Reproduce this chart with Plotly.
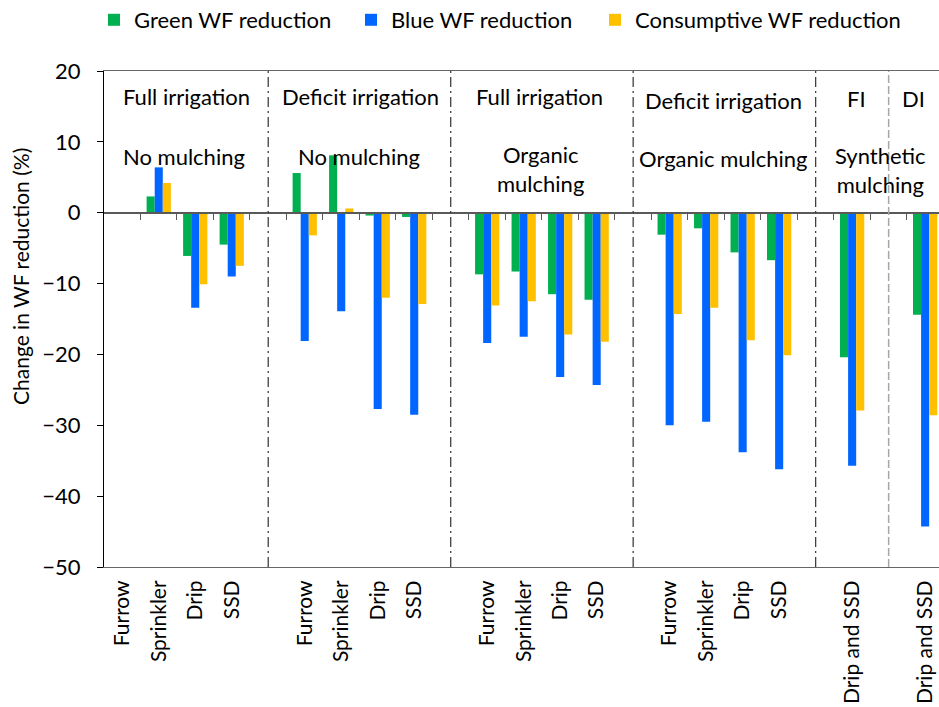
import plotly.graph_objects as go

# ---- data ----
categories = ["Furrow", "Sprinkler", "Drip", "SSD", "",
              "Furrow", "Sprinkler", "Drip", "SSD", "",
              "Furrow", "Sprinkler", "Drip", "SSD", "",
              "Furrow", "Sprinkler", "Drip", "SSD", "",
              "Drip and SSD", "", "Drip and SSD"]
green_wf = [None, 2.3, -6.1, -4.5, None,
            5.6, 8.1, -0.4, -0.6, None,
            -8.7, -8.3, -11.5, -12.3, None,
            -3.1, -2.2, -5.6, -6.7, None,
            -20.4, None, -14.4]
blue_wf = [None, 6.4, -13.4, -9.0, None,
           -18.1, -13.9, -27.7, -28.5, None,
           -18.4, -17.5, -23.2, -24.3, None,
           -30.0, -29.5, -33.8, -36.2, None,
           -35.7, None, -44.3]
cons_wf = [None, 4.2, -10.1, -7.5, None,
           -3.2, 0.6, -12.0, -12.9, None,
           -13.1, -12.5, -17.2, -18.2, None,
           -14.3, -13.4, -18.0, -20.1, None,
           -27.9, None, -28.6]
y_ticks = [20, 10, 0, -10, -20, -30, -40, -50]
separators = [4, 9, 14, 19]
light_separator = 21

W, H = 939, 707
L, R, T, B = 104, 0, 71, 140
pw, ph = W - L - R, H - T - B
FONT = "Lato"

xpos = list(range(len(categories)))

def px(x):
    return (x - L) / pw

def py(y):
    return (H - B - y) / ph

fig = go.Figure()
series = [("Green WF reduction", green_wf, "#00B050", "legend"),
          ("Blue WF reduction", blue_wf, "#0066FF", "legend2"),
          ("Consumptive WF reduction", cons_wf, "#FFC000", "legend3")]
for name, vals, col, lg in series:
    fig.add_trace(go.Bar(x=xpos, y=vals, name=name, marker_color=col,
                         marker_line_width=0, legend=lg))

# dummy trace so the zero-line axis is drawn
fig.add_trace(go.Scatter(x=[None], y=[None], xaxis="x2", showlegend=False,
                         hoverinfo="skip"))

xr = [-0.5, 22.38]
fig.update_layout(
    width=W, height=H,
    margin=dict(l=L, r=R, t=T, b=B, autoexpand=False),
    plot_bgcolor="white", paper_bgcolor="white",
    barmode="group", bargap=0.335, bargroupgap=0,
    font=dict(family=FONT, size=21, color="black"),
    xaxis=dict(range=xr, tickmode="array", tickvals=xpos, ticktext=categories,
               tickangle=-90, showgrid=False, zeroline=False,
               showline=True, mirror=True, linecolor="#666666", linewidth=1,
               ticks="", ticklabelstandoff=4, automargin=False,
               tickfont=dict(family=FONT, size=21, color="black")),
    xaxis2=dict(range=xr, overlaying="x", anchor="free", position=50 / 70,
                tickmode="array", tickvals=[k - 0.5 for k in range(1, 23)],
                showticklabels=False, ticks="outside", ticklen=7,
                tickcolor="#595959", tickwidth=1,
                showline=True, linecolor="#595959", linewidth=1.5,
                showgrid=False, zeroline=False, automargin=False),
    yaxis=dict(range=[-50, 20], tickmode="array", tickvals=y_ticks,
               showgrid=False, zeroline=False, showline=True,
               linecolor="black", linewidth=1, ticks="outside", ticklen=6,
               tickcolor="black", ticklabelstandoff=12, automargin=False,
               tickfont=dict(family=FONT, size=22, color="black")),
    showlegend=True,
)

leg_common = dict(orientation="h", yanchor="middle", y=py(20), xanchor="left",
                  bgcolor="rgba(0,0,0,0)", borderwidth=0,
                  font=dict(family=FONT, size=22, color="black"))
fig.update_layout(
    legend=dict(x=px(94), **leg_common),
    legend2=dict(x=px(351), **leg_common),
    legend3=dict(x=px(595), **leg_common),
)

shapes = []
for s in separators:
    shapes.append(dict(type="line", xref="x", yref="paper", x0=s, x1=s,
                       y0=0, y1=1, line=dict(color="#404040", width=1.3,
                                             dash="10px,4px,2px,4px")))
shapes.append(dict(type="line", xref="x", yref="paper", x0=light_separator,
                   x1=light_separator, y0=0, y1=1,
                   line=dict(color="#A6A6A6", width=1.5, dash="8px,3px")))
fig.update_layout(shapes=shapes)

ann = [("Full irrigation", 186, 97), ("No mulching", 184, 157),
       ("Deficit irrigation", 360, 97), ("No mulching", 359, 157),
       ("Full irrigation", 539, 96), ("Organic<br>mulching", 540, 169),
       ("Deficit irrigation", 723, 100), ("Organic mulching", 723, 158),
       ("FI", 856, 99), ("DI", 913, 99), ("Synthetic<br>mulching", 880, 170)]
for txt, x, y in ann:
    fig.add_annotation(text=txt, xref="paper", yref="paper", x=px(x), y=py(y),
                       xanchor="center", yanchor="middle", showarrow=False,
                       font=dict(family=FONT, size=22, color="black"))

fig.add_annotation(text="Change in WF reduction (%)", xref="paper", yref="paper",
                   x=px(20), y=py(277), xanchor="center", yanchor="middle",
                   textangle=-90, showarrow=False,
                   font=dict(family=FONT, size=21, color="black"))

fig.write_html("out.html", config={"displayModeBar": False},
               post_script="document.body.style.margin='0';"
                           "document.body.style.overflow='hidden';")
